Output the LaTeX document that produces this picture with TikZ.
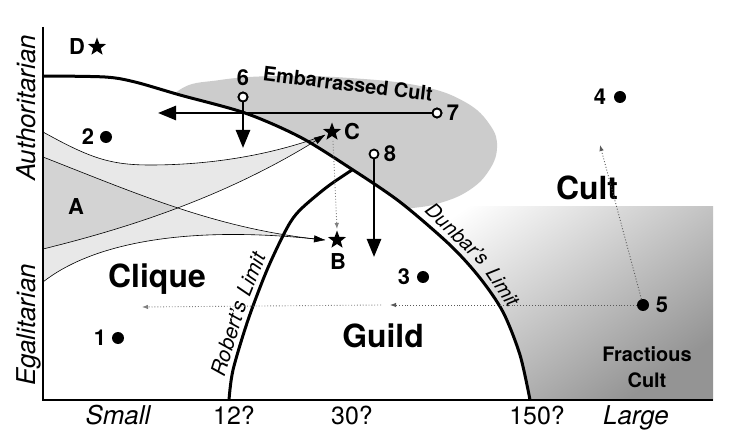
\documentclass[tikz,border=0pt]{standalone}
\usepackage{fontspec}
\setmainfont{TeX Gyre Heros}
\usetikzlibrary{arrows.meta,shapes.geometric}
\begin{document}
\begin{tikzpicture}[x=1bp,y=-1bp,
  thickcurve/.style={line width=3bp},
  bigarrow/.style={line width=2.6bp,-{Triangle[length=18bp,width=14bp]}},
  thinline/.style={line width=0.6bp},
  thinarrow/.style={line width=0.6bp,-{Triangle[length=11bp,width=7bp]}},
  dotarrow/.style={dotted, gray!70!black, line width=0.9bp, -{Latex[length=6bp,width=4.5bp]}},
  dotpt/.style={circle, fill=black, inner sep=0pt, minimum size=12bp},
  opent/.style={circle, draw=black, fill=white, line width=1.8bp, inner sep=0pt, minimum size=9bp},
  starpt/.style={star, star points=5, star point ratio=2.4, fill=black, inner sep=0pt, minimum size=19bp},
  numlab/.style={font=\bfseries\fontsize{22}{24}\selectfont, inner sep=0pt},
  biglab/.style={font=\bfseries\fontsize{32}{36}\selectfont, inner sep=0pt},
  smalllab/.style={font=\bfseries\fontsize{20}{22}\selectfont, inner sep=0pt},
  axlab/.style={font=\itshape\fontsize{26}{28}\selectfont, inner sep=0pt},
  ticklab/.style={font=\fontsize{25}{28}\selectfont, inner sep=0pt},
  dunlab/.style={font=\itshape\fontsize{20}{22}\selectfont, inner sep=0pt, anchor=base},
  roblab/.style={font=\itshape\fontsize{21}{23}\selectfont, inner sep=0pt, anchor=base},
]
\useasboundingbox (0,0) rectangle (738,439);
\fill[white] (0,0) rectangle (738,439);

% Cult gradient region
\shade[top color=white, bottom color=black!42, shading angle=35] (380,207) rectangle (713,400);

% Embarrassed cult blob
\fill[gray!40] plot[smooth cycle, tension=0.7] coordinates {(150,130) (178,91) (220,80) (280,76) (350,78) (420,86) (465,102) (490,125) (497,148) (488,172) (468,191) (440,203) (413,208) (370,212) (300,200) (200,170)};

% white interior of Dunbar's limit
\fill[white] plot[smooth, tension=0.5] coordinates {(43,76) (105,77) (135,82) (180,95) (245,113) (300,137) (350,168) (400,202) (450,245) (480,278) (503,312) (520,355) (530,400)} -- (43,400) -- cycle;

% bands
\fill[black, fill opacity=0.09] (43,132) .. controls (90,158) and (110,165) .. (150,165) .. controls (220,165) and (280,152) .. (325,135) .. controls (220,200) and (120,230) .. (43,249) -- cycle;
\fill[black, fill opacity=0.09] (43,157) .. controls (140,195) and (220,230) .. (325,240) .. controls (180,225) and (90,245) .. (43,282) -- cycle;

\draw[thinline] (43,132) .. controls (90,158) and (110,165) .. (150,165) .. controls (220,165) and (280,152) .. (325,135);
\draw[thinarrow] (43,249) .. controls (120,230) and (220,200) .. (325,135);
\draw[thinline] (43,157) .. controls (140,195) and (220,230) .. (325,240);
\draw[thinarrow] (43,282) .. controls (90,245) and (180,225) .. (325,240);

% limits
\draw[thickcurve] plot[smooth, tension=0.5] coordinates {(43,76) (105,77) (135,82) (180,95) (245,113) (300,137) (350,168) (400,202) (450,245) (480,278) (503,312) (520,355) (530,400)};
\draw[thickcurve] plot[smooth, tension=0.5] coordinates {(229,400) (233,370) (248,320) (267,270) (287,228) (300,210) (327,187) (352,170)};

% curve labels
\node[dunlab, rotate=-43.5] (dun1) at (452.5,239.2) {Dunbar's};
\node[dunlab, rotate=-56] (dun2) at (497,291) {Limit};
\node[roblab, rotate=73] (rob1) at (235.7,340.2) {Robert's};
\node[roblab, rotate=68] (rob2) at (257.9,277) {Limit};

% axes
\coordinate (top) at (43,27);
\coordinate (origin) at (43,400);
\coordinate (right) at (713,400);
\draw[line width=1.3bp] (top) -- (origin) -- (right);

% axis labels
\node[axlab, rotate=90, anchor=base] (aut) at (35,108) {Authoritarian};
\node[axlab, rotate=90, anchor=base] (ega) at (35,325) {Egalitarian};
\node[axlab, anchor=base] (small) at (118,424) {Small};
\node[ticklab, anchor=base] (t12) at (234,424) {12?};
\node[ticklab, anchor=base] (t30) at (352,424) {30?};
\node[ticklab, anchor=base] (t150) at (537,424) {150?};
\node[axlab, anchor=base] (large) at (636,424) {Large};

% region labels
\node[biglab, anchor=base] (clique) at (157,288) {Clique};
\node[biglab, anchor=base] (guild) at (383,348) {Guild};
\node[biglab, anchor=base] (cult) at (587,200) {Cult};
\node[smalllab, anchor=base] (frac1) at (647,362) {Fractious};
\node[smalllab, anchor=base] (frac2) at (647,387) {Cult};
\node[smalllab, anchor=base, rotate=-7] (emb) at (347,91) {Embarrassed Cult};

% stars
\node[starpt] (sD) at (97,47) {};
\node[numlab] (lD) at (77,47) {D};
\node[starpt] (sC) at (332,132) {};
\node[numlab] (lC) at (352,132) {C};
\node[starpt] (sB) at (337,240) {};
\node[numlab] (lB) at (338,262) {B};
\node[numlab] (lA) at (76,207) {A};

% dotted moves
\coordinate (cb) at (337,229);
\coordinate (ct) at (333,141);
\draw[dotarrow, gray] (ct) -- (cb);

% points
\node[dotpt] (d1) at (118,338) {};
\node[numlab] (l1) at (100,338) {1};
\node[dotpt] (d2) at (106,137) {};
\node[numlab] (l2) at (88,137) {2};
\node[dotpt] (d3) at (423,277) {};
\node[numlab] (l3) at (404,277) {3};
\node[dotpt] (d4) at (620,97) {};
\node[numlab] (l4) at (600,97) {4};
\node[dotpt] (d5) at (643,305) {};
\node[numlab] (l5) at (662,305) {5};

\coordinate (p1) at (390,305);
\coordinate (q1) at (381,305);
\coordinate (p2) at (142,307);
\coordinate (u5) at (600,145);
\draw[dotarrow] (d5) -- (p1);
\draw[dotarrow, gray] (q1) -- (p2);
\draw[dotarrow] (d5) -- (u5);

% thick moves
\node[opent] (o6) at (243,97) {};
\node[numlab] (l6) at (243,78) {6};
\coordinate (e6) at (243,148);
\node[opent] (o7) at (437,113) {};
\node[numlab] (l7) at (453,113) {7};
\coordinate (e7) at (158,113);
\node[opent] (o8) at (374,154) {};
\node[numlab] (l8) at (390,154) {8};
\coordinate (e8) at (374,257);
\draw[bigarrow] (o7) -- (e7);
\draw[bigarrow] (o6) -- (e6);
\draw[bigarrow] (o8) -- (e8);
\node[opent] at (o6) {};
\node[opent] at (o7) {};
\end{tikzpicture}
\end{document}
